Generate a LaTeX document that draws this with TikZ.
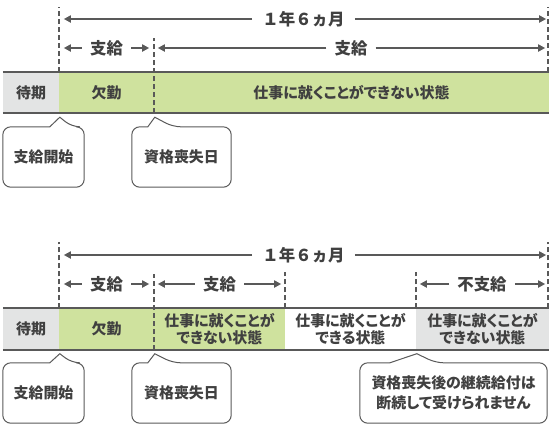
\documentclass[tikz,border=0pt]{standalone}
\usepackage{fontspec}
\setmainfont{Noto Sans CJK JP}[RawFeature=+palt]
\newfontfamily\widejp{Noto Sans CJK JP}
\usetikzlibrary{arrows.meta, calc, backgrounds}

\definecolor{ink}{HTML}{404040}
\definecolor{rulegray}{HTML}{595959}
\definecolor{waitgray}{HTML}{E3E4E4}
\definecolor{paygreen}{HTML}{CFE29E}

\begin{document}
\begin{tikzpicture}[x=1bp, y=-1bp,
  seg/.style = {rectangle, inner sep=0pt, minimum height=41bp, text=ink, align=center,
                font=\bfseries\fontsize{15}{17}\selectfont},
  barrule/.style = {draw=rulegray, line width=2bp},
  guide/.style = {draw=rulegray, line width=1.5bp, dash pattern=on 5bp off 3bp},
  dim/.style = {draw=rulegray, line width=2bp, -{Triangle[length=7bp, width=7bp]}},
  span/.style = {inner xsep=10bp, text=ink, font=\widejp\bfseries\fontsize{16.5}{18}\selectfont},
  paylabel/.style = {inner xsep=8bp, text=ink, font=\bfseries\fontsize{16.5}{18}\selectfont},
  balloon/.style = {rectangle, inner sep=0pt, minimum height=60bp, text=ink, align=center,
                    font=\bfseries\fontsize{15}{20}\selectfont},
  outline/.style = {draw=rulegray, line width=1bp, fill=white}]
  \useasboundingbox (0,0) rectangle (555,425);

  % upper case
  \node (wait1) [seg, fill=waitgray, minimum width=56bp] at (31,92.5) {待期};
  \node (sick1) [seg, fill=paygreen, minimum width=95bp] at (106.5,92.5) {欠勤};
  \node (ng1) [seg, fill=paygreen, minimum width=395bp] at (351.5,92.5) {仕事に就くことができない状態};
  \draw [barrule] (wait1.north west) -- (ng1.north east);
  \draw [barrule] (wait1.south west) -- (ng1.south east);

  \draw [guide] (sick1.north west) -- ++(0,-65);
  \draw [guide] (ng1.south west) -- ++(0,-75);
  \draw [guide] ([xshift=-1bp]ng1.north east) -- ++(0,-65);

  \node (span1) [span] at (303.5,19) {１年６ヵ月};
  \node (pay1) [paylabel] at (106.5,48) {支給};
  \node (pay2) [paylabel] at (351,48) {支給};
  \draw [dim] (span1) -- ($(sick1.north west |- span1)+(5,0)$);
  \draw [dim] (span1) -- ($(ng1.north east |- span1)+(-3,0)$);
  \draw [dim] (pay1) -- ($(sick1.north west |- pay1)+(5,0)$);
  \draw [dim] (pay1) -- ($(sick1.north east |- pay1)+(-5,0)$);
  \draw [dim] (pay2) -- ($(ng1.north west |- pay2)+(4,0)$);
  \draw [dim] (pay2) -- ($(ng1.north east |- pay2)+(-4,0)$);

  \node (start1) [balloon, minimum width=81bp] at (43.5,157) {支給開始};
  \node (loss1) [balloon, minimum width=99bp] at (181.5,157) {資格喪失日};

  % lower case
  \node (wait2) [seg, fill=waitgray, minimum width=56bp] at (31,329) {待期};
  \node (sick2) [seg, fill=paygreen, minimum width=95bp] at (106.5,329) {欠勤};
  \node (ng2) [seg, fill=paygreen, minimum width=131bp] at (219.5,329) {仕事に就くことが\\できない状態};
  \node (ok2) [seg, fill=white, minimum width=131bp] at (350.5,329) {仕事に就くことが\\できる状態};
  \node (ng3) [seg, fill=waitgray, minimum width=133bp] at (482.5,329) {仕事に就くことが\\できない状態};
  \draw [barrule] (wait2.north west) -- (ng3.north east);
  \draw [barrule] (wait2.south west) -- (ng3.south east);

  \draw [guide] (sick2.north west) -- ++(0,-66);
  \draw [guide] (ng2.south west) -- ++(0,-76);
  \draw [guide] (ok2.north west) -- ++(0,-36);
  \draw [guide] (ng3.north west) -- ++(0,-36);
  \draw [guide] ([xshift=-1bp]ng3.north east) -- ++(0,-66);

  \node (span2) [span] at (303.5,255) {１年６ヵ月};
  \node (pay3) [paylabel] at (106.5,284) {支給};
  \node (pay4) [paylabel] at (219.5,284) {支給};
  \node (nopay) [paylabel] at (482,284) {不支給};
  \draw [dim] (span2) -- ($(sick2.north west |- span2)+(5,0)$);
  \draw [dim] (span2) -- ($(ng3.north east |- span2)+(-3,0)$);
  \draw [dim] (pay3) -- ($(sick2.north west |- pay3)+(5,0)$);
  \draw [dim] (pay3) -- ($(sick2.north east |- pay3)+(-5,0)$);
  \draw [dim] (pay4) -- ($(ng2.north west |- pay4)+(4,0)$);
  \draw [dim] (pay4) -- ($(ng2.north east |- pay4)+(-4,0)$);
  \draw [dim] (nopay) -- ($(ng3.north west |- nopay)+(4,0)$);
  \draw [dim] (nopay) -- ($(ng3.north east |- nopay)+(-4,0)$);

  \node (start2) [balloon, minimum width=81bp] at (43.5,393) {支給開始};
  \node (loss2) [balloon, minimum width=99bp] at (181.5,393) {資格喪失日};
  \node (note3) [balloon, minimum width=187bp] at (453.5,393) {資格喪失後の継続給付は\\断続して受けられません};

  % balloon outlines, pointing at the bar
  \begin{scope}[on background layer]
  \foreach \b/\t/\l/\r in {start1/sick1.south west/9/13, loss1/ng1.south west/6/19,
                           start2/sick2.south west/9/13, loss2/ng2.south west/6/19,
                           note3/ng3.south west/26/20}
    \draw [outline] ($(\t)+(1,4)$) -- ($(\t |- \b.north)+(-\l,0)$) [rounded corners=8bp]
      -- (\b.north west) -- (\b.south west) -- (\b.south east) -- (\b.north east)
      -- ($(\t |- \b.north)+(\r,0)$) [sharp corners] -- cycle;
  \end{scope}
\end{tikzpicture}
\end{document}
